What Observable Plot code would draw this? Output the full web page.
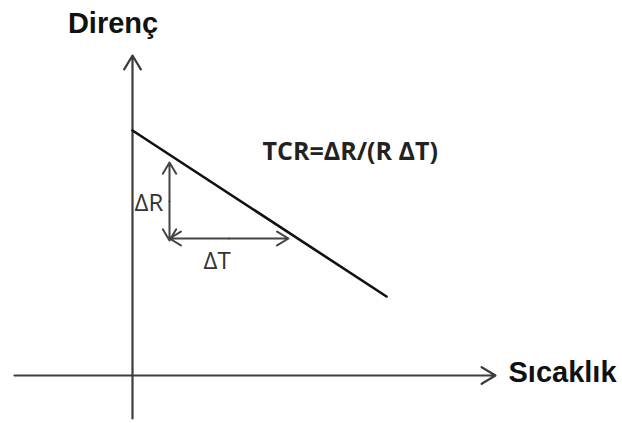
<!DOCTYPE html>
<html><head><meta charset="utf-8">
<script src="https://cdn.jsdelivr.net/npm/d3@7"></script>
<script src="https://cdn.jsdelivr.net/npm/@observablehq/plot@0.6"></script>
<style>body{margin:0;background:#fff}</style>
</head><body><div id="chart"></div>
<script>
// Schematic: resistance (Direnç) falling with temperature (Sıcaklık), abstract units.
const axisXSpan = [{x1: -11.8, x2: 36.3, y1: 0, y2: 0}];
const axisYSpan = [{x1: 0, x2: 0, y1: -4.3, y2: 32.0}];
const lineT = [0, 25.4];
const lineR = [24.5, 7.9];
const deltaRSpan = {x: 3.7, yLow: 13.5, yHigh: 21.3};
const deltaTSpan = {y: 13.7, xLow: 3.7, xHigh: 15.6};
const yTitle = [{text: "Direnç", x: -1.95, y: 35.2}];
const xTitle = [{text: "Sıcaklık", x: 37.6, y: 0.3}];
const formula = [{text: "TCR=ΔR/(R ΔT)", x: 13.0, y: 22.35}];
const deltaLabels = [
  {text: "ΔR", x: 0.2, y: 17.2},
  {text: "ΔT", x: 7.1, y: 11.4}
];

const resistance = lineT.map((t, i) => ({T: t, R: lineR[i]}));
const midR = (deltaRSpan.yLow + deltaRSpan.yHigh) / 2;
const midT = (deltaTSpan.xLow + deltaTSpan.xHigh) / 2;
const dArrows = [
  {x1: deltaRSpan.x, x2: deltaRSpan.x, y1: midR, y2: deltaRSpan.yHigh},
  {x1: deltaRSpan.x, x2: deltaRSpan.x, y1: midR, y2: deltaRSpan.yLow},
  {x1: midT, x2: deltaTSpan.xHigh, y1: deltaTSpan.y, y2: deltaTSpan.y},
  {x1: midT, x2: deltaTSpan.xLow, y1: deltaTSpan.y, y2: deltaTSpan.y}
];

const titleFont = {fontSize: 29, fontWeight: "bold", fontFamily: "Liberation Sans, Arial, sans-serif", fill: "#111"};

const chart = Plot.plot({
  width: 622, height: 423,
  margin: 0,
  x: {domain: [-13.2, 49.0], range: [0, 622], axis: null},
  y: {domain: [-4.8, 37.5], range: [423, 0], axis: null},
  style: {background: "#fff"},
  marks: [
    Plot.arrow(axisXSpan, {x1: "x1", y1: "y1", x2: "x2", y2: "y2", stroke: "#3c3c3c", strokeWidth: 2.2, headLength: 11, headAngle: 62}),
    Plot.arrow(axisYSpan, {x1: "x1", y1: "y1", x2: "x2", y2: "y2", stroke: "#3c3c3c", strokeWidth: 2.2, headLength: 11, headAngle: 62}),
    Plot.line(resistance, {x: "T", y: "R", stroke: "#111", strokeWidth: 2.6}),
    Plot.arrow(dArrows, {x1: "x1", y1: "y1", x2: "x2", y2: "y2", stroke: "#444", strokeWidth: 2, headLength: 10, headAngle: 62}),
    Plot.text(yTitle, {x: "x", y: "y", text: "text", textAnchor: "middle", ...titleFont}),
    Plot.text(xTitle, {x: "x", y: "y", text: "text", textAnchor: "start", ...titleFont}),
    Plot.text(formula, {x: "x", y: "y", text: "text", textAnchor: "start", fontSize: 25, fontWeight: "bold", fontFamily: "Open Sans, sans-serif", fill: "#222"}),
    Plot.text(deltaLabels, {x: "x", y: "y", text: "text", textAnchor: "start", fontSize: 24, fontFamily: "Open Sans, sans-serif", fill: "#333"})
  ]
});
document.getElementById("chart").append(chart);
</script>
</body></html>
